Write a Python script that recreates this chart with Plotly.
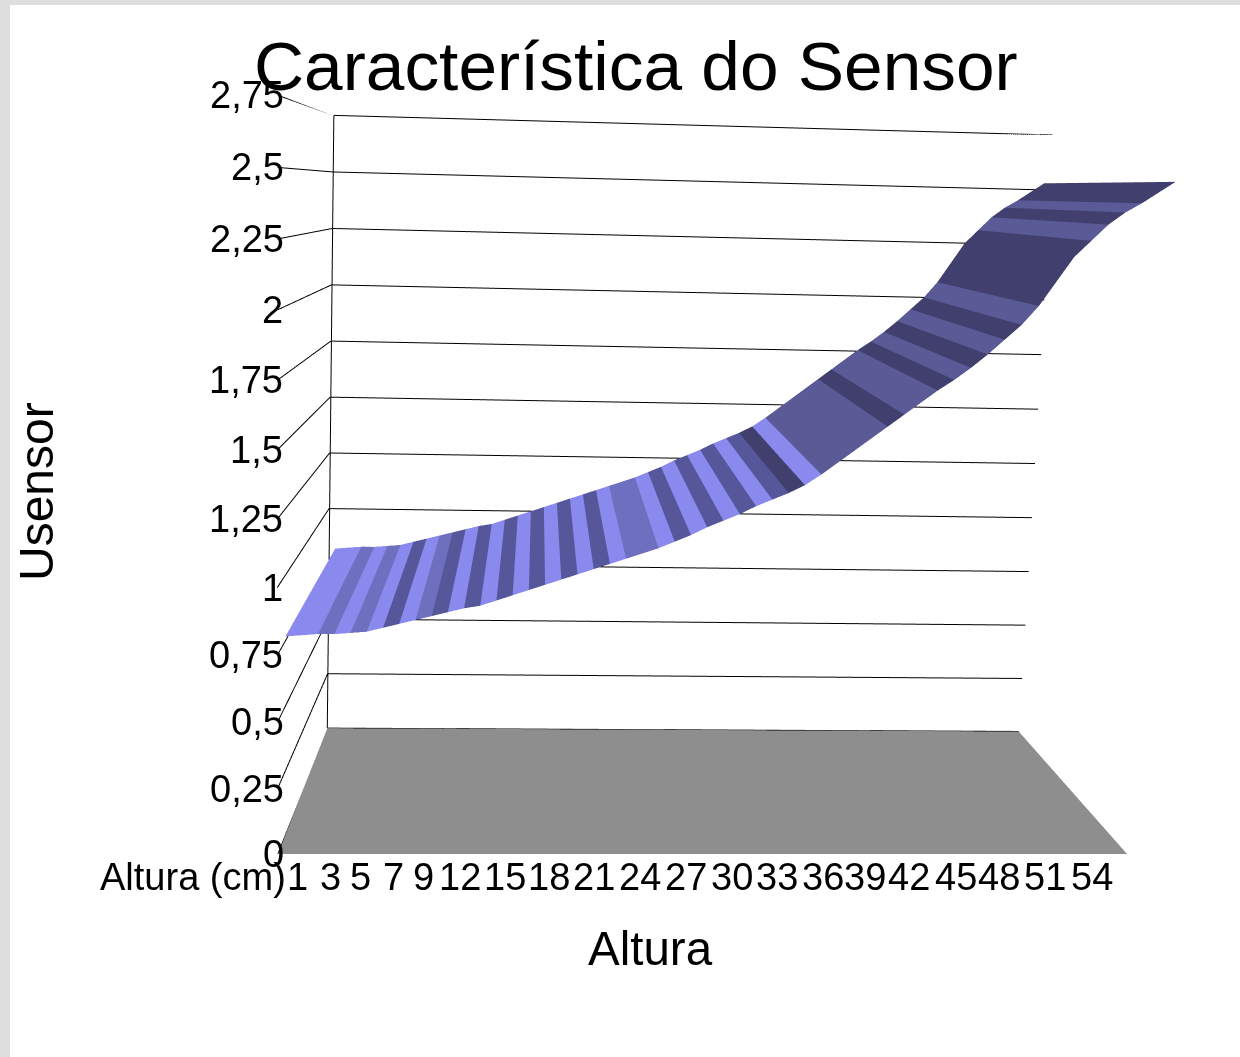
import plotly.graph_objects as go

# Sensor output (V) for each height step, one value per category
alturas = list(range(1, 56))
usensor = [0.82, 0.825, 0.83, 0.83, 0.835, 0.84, 0.855, 0.87, 0.885, 0.90, 0.915, 0.93, 0.94, 0.96,
           0.98, 1.00, 1.02, 1.04, 1.06, 1.08, 1.10, 1.12, 1.14, 1.16, 1.185, 1.21, 1.24, 1.265,
           1.29, 1.32, 1.345, 1.37, 1.40, 1.44, 1.485, 1.53, 1.575, 1.62, 1.665, 1.71, 1.755,
           1.795, 1.84, 1.89, 1.945, 2.00, 2.07, 2.16, 2.25, 2.31, 2.37, 2.415, 2.45, 2.49, 2.53]

# Tick labels
x_ticks = [1, 3, 5, 7, 9, 12, 15, 18, 21, 24, 27, 30, 33, 36, 39, 42, 45, 48, 51, 54]
x_tick_pos = [1.7, 3.8, 5.7, 7.8, 9.7, 12.0, 14.85, 17.65, 20.55, 23.5, 26.5, 29.45, 32.4, 35.35, 38.1, 41.0, 44.1, 46.95, 50.0, 53.1]
z_ticks = [0, 0.25, 0.5, 0.75, 1, 1.25, 1.5, 1.75, 2, 2.25, 2.5, 2.75]
z_labels = ["0", "0,25", "0,5", "0,75", "1", "1,25", "1,5", "1,75", "2", "2,25", "2,5", "2,75"]

# Facet shading along the ribbon
PAL = {"L": "#8a8aee", "M": "#6f6fc0", "D": "#56569a", "N": "#5a5a96", "E": "#403f6e"}
facet_shade = list("LLMLMLDLMD" "LDLDLDLDLD" "LMMLDLD" "LDLDELNNNNENNENENE" "NEEENENEE")

X0, X1 = 0.5, 55.5
XMID = 28.0
Y0, Y1 = 0.0, 1.0
Z0, Z1 = 0.0, 2.75
LIP = -0.012


def sx(x, z):
    """Keep the vertical edges of the chart box parallel under the pitched camera."""
    return XMID + (x - XMID) * (1 - 0.08 * z / Z1) - 0.4 * z / Z1


def sz(z):
    """Even out the value scale, which the pitched camera stretches near the top."""
    return z + 0.037 * z * (Z1 - z)


fig = go.Figure()

FLAT = dict(ambient=1, diffuse=0, specular=0)

# Floor
fig.add_trace(go.Mesh3d(x=[X0, X1, X1, X0], y=[Y0, Y0, Y1, Y1], z=[0, 0, 0, 0],
                        i=[0, 0], j=[1, 2], k=[2, 3], color="#8e8e8e", flatshading=True,
                        lighting=FLAT, hoverinfo="skip"))
# Front edge of the floor, shading from dark to light
fig.add_trace(go.Mesh3d(x=[X0, X1, X1, X0], y=[Y0, Y0, Y0, Y0], z=[LIP, LIP, 0, 0],
                        i=[0, 0], j=[1, 2], k=[2, 3], vertexcolor=["#555555", "#b4b4b4", "#a8a8a8", "#666666"],
                        lighting=FLAT, hoverinfo="skip"))

# Wall gridlines: side wall running front to back, then back wall running left to right
gx, gy, gz = [], [], []
for z in z_ticks:
    gx += [sx(X0, z), sx(X0, z), sx(X1, z), None]
    gy += [Y0, Y1, Y1, None]
    gz += [sz(z), sz(z), sz(z), None]
fig.add_trace(go.Scatter3d(x=gx, y=gy, z=gz, mode="lines", line=dict(color="#000000", width=2),
                           hoverinfo="skip"))
fig.add_trace(go.Scatter3d(x=[sx(X0, Z0), sx(X0, Z1)], y=[Y1, Y1], z=[sz(Z0), sz(Z1)], mode="lines",
                           line=dict(color="#000000", width=2), hoverinfo="skip"))

# Ribbon surface: front and back edge vertices per category
vx, vy, vz = [], [], []
for h, v in zip(alturas, usensor):
    vx += [sx(h, v), sx(h, v)]
    vy += [Y0, Y1]
    vz += [sz(v), sz(v)]
ii, jj, kk, fc = [], [], [], []
for n in range(len(alturas) - 1):
    a = 2 * n
    ii += [a, a]
    jj += [a + 2, a + 3]
    kk += [a + 3, a + 1]
    fc += [PAL[facet_shade[n]]] * 2
fig.add_trace(go.Mesh3d(x=vx, y=vy, z=vz, i=ii, j=jj, k=kk, facecolor=fc, flatshading=True,
                        lighting=FLAT, hoverinfo="skip"))

FONT = "Liberation Sans"
TICK = dict(family=FONT, size=38, color="black")
ann3d = []
for z, lab in zip(z_ticks, z_labels):
    ann3d.append(dict(x=sx(X0, z), y=Y0, z=sz(z), text=lab, showarrow=False, xanchor="right", xshift=8, font=TICK))
for pos, h in zip(x_tick_pos, x_ticks):
    ann3d.append(dict(x=pos, y=Y0, z=0, text=str(h), showarrow=False, yanchor="top", font=TICK))
ann3d.append(dict(x=X0, y=Y0, z=0, text="Altura (cm)", showarrow=False, xanchor="right", yanchor="top",
                  xshift=10, font=TICK))


def axis():
    return dict(visible=False, showgrid=False, showbackground=False, zeroline=False, showspikes=False)


scene = dict(
    domain=dict(x=[0, 0.96], y=[0, 1]),
    dragmode="orbit",
    xaxis=dict(axis(), range=[X0, X1]),
    yaxis=dict(axis(), range=[Y0, Y1]),
    zaxis=dict(axis(), range=[Z0, Z1]),
    aspectmode="manual",
    aspectratio=dict(x=1.125, y=0.40, z=0.935),
    camera=dict(eye=dict(x=-0.235, y=-1.7065, z=0.374), center=dict(x=-0.1516, y=0, z=-0.0787),
                up=dict(x=-0.024, y=0, z=1), projection=dict(type="perspective")),
    annotations=ann3d,
    bgcolor="rgba(0,0,0,0)",
)

W, H = 1240, 1057


def px(x):
    return x / W


def py(y):
    return 1 - y / H


TEXT = dict(xref="paper", yref="paper", showarrow=False, xanchor="center", yanchor="middle")
fig.update_layout(
    width=W, height=H, margin=dict(l=0, r=0, t=0, b=0), showlegend=False,
    paper_bgcolor="white", scene=scene,
    shapes=[
        dict(type="rect", xref="paper", yref="paper", x0=0, x1=px(10), y0=0, y1=1,
             fillcolor="#dedede", line_width=0, layer="below"),
        dict(type="rect", xref="paper", yref="paper", x0=0, x1=1, y0=py(5), y1=1,
             fillcolor="#dedede", line_width=0, layer="below"),
    ],
    annotations=[
        dict(TEXT, text="Característica do Sensor", x=px(636), y=py(66),
             font=dict(family=FONT, size=69.4, color="black")),
        dict(TEXT, text="Altura", x=px(650), y=py(948),
             font=dict(family=FONT, size=47.5, color="black")),
        dict(TEXT, text="Usensor", x=px(36), y=py(492), textangle=-90,
             font=dict(family=FONT, size=48, color="black")),
    ],
)

fig.write_html("out.html")
